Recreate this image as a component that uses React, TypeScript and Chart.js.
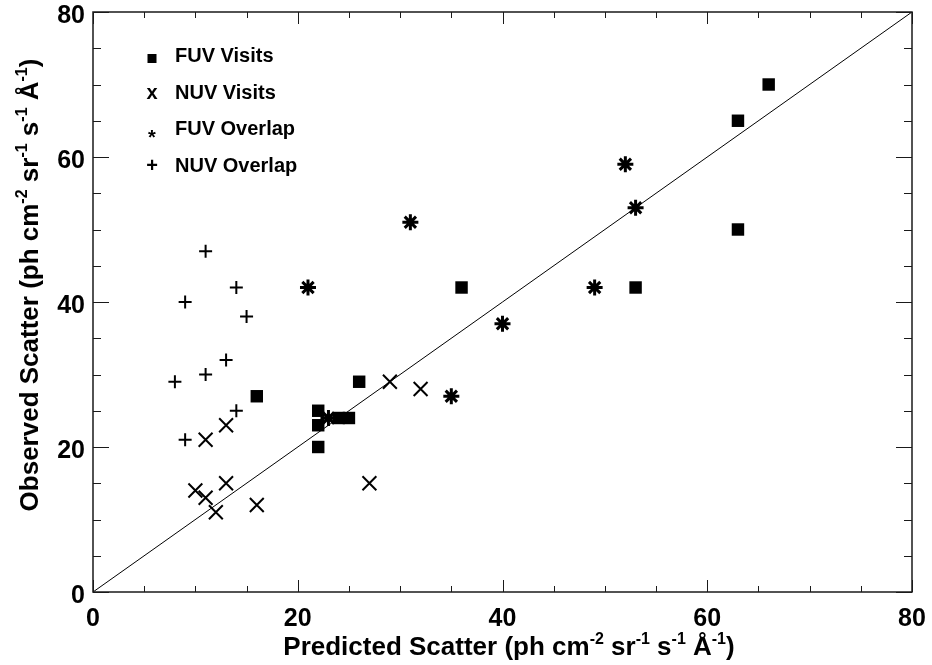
import React, { useEffect, useRef } from 'react';
import { Chart, registerables } from 'chart.js';

Chart.register(...registerables);

// ---- data ----
const fuvVisitsX = [16, 22, 22, 22, 24, 25, 26, 36, 53, 63, 63, 66];
const fuvVisitsY = [27, 25, 23, 20, 24, 24, 29, 42, 42, 50, 65, 70];
const nuvVisitsX = [10, 11, 11, 12, 13, 13, 16, 27, 29, 32];
const nuvVisitsY = [14, 13, 21, 11, 15, 23, 12, 15, 29, 28];
const fuvOverlapX = [21, 23, 31, 35, 40, 49, 52, 53];
const fuvOverlapY = [42, 24, 51, 27, 37, 42, 59, 53];
const nuvOverlapX = [8, 9, 9, 11, 11, 13, 14, 14, 15];
const nuvOverlapY = [29, 21, 40, 47, 30, 32, 42, 25, 38];
const oneToOne = [0, 80];
const axisTicks = [0, 20, 40, 60, 80];
const minorStep = 5;
const majorStep = 20;

const legendLabels = ['FUV Visits', 'NUV Visits', 'FUV Overlap', 'NUV Overlap'];
const legendGlyphs = ['square', 'x', '*', '+'];

type Seg = [string, boolean];
const xTitle: Seg[] = [
  ['Predicted Scatter (ph cm', false], ['-2', true], [' sr', false], ['-1', true],
  [' s', false], ['-1', true], [' Å', false], ['-1', true], [')', false],
];
const yTitle: Seg[] = [
  ['Observed Scatter (ph cm', false], ['-2', true], [' sr', false], ['-1', true],
  [' s', false], ['-1', true], [' Å', false], ['-1', true], [')', false],
];

const FAMILY = '"Liberation Sans", Arial, Helvetica, sans-serif';

const zip = (xs: number[], ys: number[]) => xs.map((x, i) => ({ x, y: ys[i] }));

function drawRich(ctx: CanvasRenderingContext2D, segs: Seg[], cx: number, baseY: number) {
  const mainFont = `bold 26px ${FAMILY}`;
  const supFont = `bold 16px ${FAMILY}`;
  let total = 0;
  for (const [t, sup] of segs) {
    ctx.font = sup ? supFont : mainFont;
    total += ctx.measureText(t).width;
  }
  let x = cx - total / 2;
  ctx.textAlign = 'left';
  ctx.textBaseline = 'alphabetic';
  for (const [t, sup] of segs) {
    ctx.font = sup ? supFont : mainFont;
    ctx.fillText(t, x, sup ? baseY - 11 : baseY);
    x += ctx.measureText(t).width;
  }
}

const decor = {
  id: 'decor',
  afterDatasetsDraw(chart: any) {
    const { ctx, chartArea: a, scales } = chart;
    const xs = scales.x;
    const ys = scales.y;
    ctx.save();
    ctx.strokeStyle = '#1a1a1a';
    ctx.lineWidth = 1.5;
    ctx.strokeRect(a.left, a.top, a.right - a.left, a.bottom - a.top);
    ctx.lineWidth = 1;
    ctx.beginPath();
    for (let v = xs.min; v <= xs.max; v += minorStep) {
      const px = Math.round(xs.getPixelForValue(v)) + 0.5;
      const len = v % majorStep === 0 ? 12 : 6;
      ctx.moveTo(px, a.bottom); ctx.lineTo(px, a.bottom - len);
      ctx.moveTo(px, a.top); ctx.lineTo(px, a.top + len);
    }
    for (let v = ys.min; v <= ys.max; v += minorStep) {
      const py = Math.round(ys.getPixelForValue(v)) + 0.5;
      const len = v % majorStep === 0 ? 16 : 8;
      ctx.moveTo(a.left, py); ctx.lineTo(a.left + len, py);
      ctx.moveTo(a.right, py); ctx.lineTo(a.right - len, py);
    }
    ctx.stroke();

    // tick labels
    ctx.fillStyle = '#000';
    ctx.font = `bold 25px ${FAMILY}`;
    ctx.textBaseline = 'alphabetic';
    ctx.textAlign = 'center';
    for (const v of axisTicks) {
      ctx.fillText(String(v), xs.getPixelForValue(v), a.bottom + 34);
    }
    ctx.textAlign = 'right';
    for (const v of axisTicks) {
      ctx.fillText(String(v), a.left - 8, ys.getPixelForValue(v) + 11);
    }

    // legend
    const symX = 152;
    const textX = 175;
    const rowBase = [62, 98.5, 135, 172];
    legendLabels.forEach((lab, i) => {
      const base = rowBase[i];
      ctx.font = `bold 20px ${FAMILY}`;
      ctx.textAlign = 'left';
      ctx.textBaseline = 'alphabetic';
      ctx.fillText(lab, textX, base);
      const g = legendGlyphs[i];
      if (g === 'square') {
        ctx.fillRect(symX - 4.5, base - 8, 9, 9);
      } else {
        ctx.textAlign = 'center';
        const dy = g === '*' ? 9 : 0;
        ctx.fillText(g, symX, base + dy);
      }
    });

    // axis titles
    drawRich(ctx, xTitle, 509, 655);
    ctx.translate(38, 285);
    ctx.rotate(-Math.PI / 2);
    drawRich(ctx, yTitle, 0, 0);
    ctx.restore();
  },
};

export default function App() {
  const ref = useRef<HTMLCanvasElement>(null);
  useEffect(() => {
    document.body.style.margin = '0';
    const canvas = ref.current!;
    const chart = new Chart(canvas, {
      type: 'scatter',
      data: {
        datasets: [
          {
            label: 'one-to-one',
            data: zip(oneToOne, oneToOne),
            showLine: true,
            borderColor: '#000',
            borderWidth: 1,
            pointRadius: 0,
            fill: false,
          },
          {
            label: 'FUV Visits',
            data: zip(fuvVisitsX, fuvVisitsY),
            pointStyle: 'rect',
            pointRadius: 8.8,
            backgroundColor: '#000',
            borderColor: '#000',
            borderWidth: 0,
          },
          {
            label: 'NUV Visits',
            data: zip(nuvVisitsX, nuvVisitsY),
            pointStyle: 'crossRot',
            pointRadius: 9.8,
            borderColor: '#000',
            borderWidth: 2,
          },
          {
            label: 'FUV Overlap',
            data: zip(fuvOverlapX, fuvOverlapY),
            pointStyle: 'star',
            pointRadius: 8,
            borderColor: '#000',
            borderWidth: 3,
          },
          {
            label: 'NUV Overlap',
            data: zip(nuvOverlapX, nuvOverlapY),
            pointStyle: 'cross',
            pointRadius: 6.5,
            borderColor: '#000',
            borderWidth: 2,
          },
        ],
      },
      options: {
        responsive: false,
        animation: false,
        layout: { padding: { top: 12, right: 20, left: 0, bottom: 0 } },
        plugins: { legend: { display: false }, tooltip: { enabled: false } },
        scales: {
          x: {
            type: 'linear',
            min: 0,
            max: 80,
            grid: { display: false, drawTicks: false },
            border: { display: false },
            ticks: { display: false },
            afterFit: (s: any) => { s.height = 73; },
            afterBuildTicks: (s: any) => { s.ticks = axisTicks.map((v) => ({ value: v })); },
          },
          y: {
            type: 'linear',
            min: 0,
            max: 80,
            grid: { display: false, drawTicks: false },
            border: { display: false },
            ticks: { display: false },
            afterFit: (s: any) => { s.width = 93; },
            afterBuildTicks: (s: any) => { s.ticks = axisTicks.map((v) => ({ value: v })); },
          },
        },
      },
      plugins: [decor],
    });
    return () => chart.destroy();
  }, []);
  return (
    <div style={{ width: 932, height: 665, background: '#fff' }}>
      <canvas ref={ref} width={932} height={665} />
    </div>
  );
}
